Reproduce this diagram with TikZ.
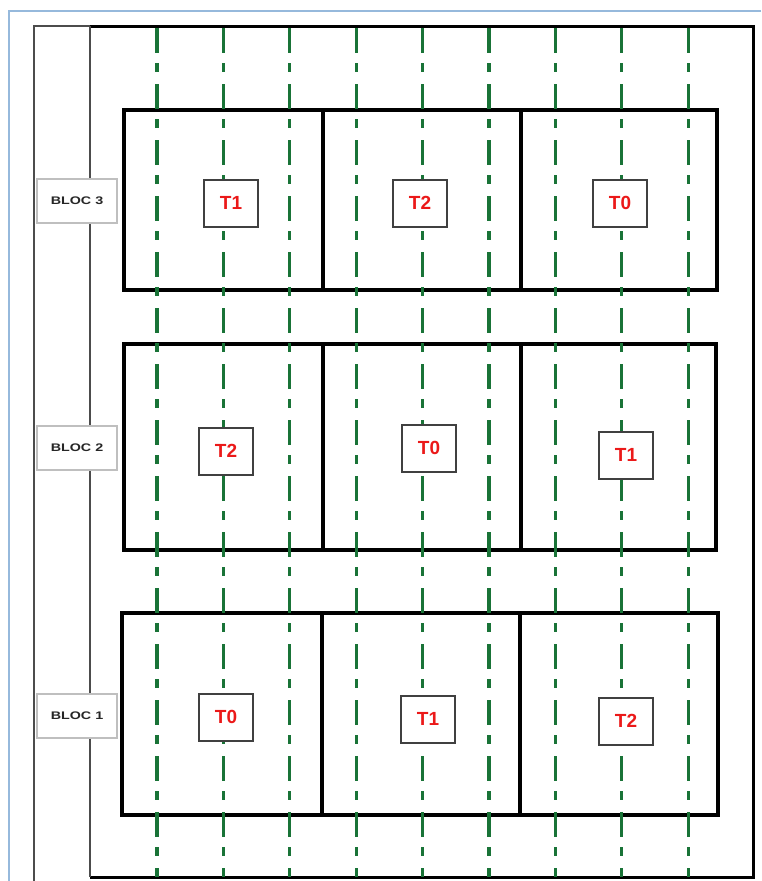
\documentclass[tikz,border=0pt]{standalone}
\usepackage{fontspec}
\setmainfont{Liberation Sans}
\definecolor{framblue}{RGB}{150,185,220}
\definecolor{furrowgreen}{RGB}{25,115,55}
\definecolor{tred}{RGB}{235,25,25}
\tikzset{
  frameline/.style={draw=framblue, line width=1.5pt},
  fieldline/.style={draw=black, line width=3pt},
  thinline/.style={draw=black!70, line width=2pt},
  bloc/.style={draw=black, line width=3.5pt},
  furrow/.style={draw=furrowgreen, line width=3.2pt, dash pattern=on 25pt off 10pt on 9pt off 12pt},
  tbox/.style={draw=black!75, line width=2pt, fill=white, minimum width=54pt, minimum height=47pt,
    inner sep=0pt, text=tred, font=\bfseries\fontsize{19}{19}\selectfont},
  blabel/.style={draw=black!25, line width=1.2pt, fill=white, minimum width=80pt, minimum height=44pt,
    inner sep=0pt, text=black!85, font=\bfseries\fontsize{11}{11}\selectfont}
}
\newcommand{\bloctext}[1]{\scalebox{1.3}[1]{#1}}
\begin{document}
\begin{tikzpicture}[x=1pt, y=-1pt]
  \useasboundingbox (0,0) rectangle (761,881);
  % page frame
  \draw[frameline] (761,11) -- (9,11) -- (9,881);
  % field outline
  \draw[thinline] (34,881) -- (34,26) -- (90,26);
  \draw[fieldline] (90,26) -- (753,26) -- (753,877) -- (90,877);
  \draw[thinline, line width=2.5pt] (90,26) -- (90,877);
  % blocks and plots
  \draw[bloc] (124,110) rectangle (717,290) (323,110) -- (323,290) (521,110) -- (521,290);
  \draw[bloc] (124,344) rectangle (716,550) (323,344) -- (323,550) (521,344) -- (521,550);
  \draw[bloc] (122,613) rectangle (718,815) (322,613) -- (322,815) (520,613) -- (520,815);
  % sowing lines
  \foreach \x in {157,223.4,289.8,356.2,422.6,489,555.4,621.8,688.2}
    \draw[furrow] (\x,28) -- (\x,877);
  % block labels
  \node[blabel] (bloc3) at (77,201) {\bloctext{BLOC 3}};
  \node[blabel] (bloc2) at (77,448) {\bloctext{BLOC 2}};
  \node[blabel] (bloc1) at (77,716) {\bloctext{BLOC 1}};
  % treatments
  \node[tbox] (b3t1) at (231,203) {T1};
  \node[tbox] (b3t2) at (420,203) {T2};
  \node[tbox] (b3t0) at (620,203) {T0};
  \node[tbox] (b2t2) at (226,451) {T2};
  \node[tbox] (b2t0) at (429,448) {T0};
  \node[tbox] (b2t1) at (626,455) {T1};
  \node[tbox] (b1t0) at (226,717) {T0};
  \node[tbox] (b1t1) at (428,719) {T1};
  \node[tbox] (b1t2) at (626,721) {T2};
\end{tikzpicture}
\end{document}
